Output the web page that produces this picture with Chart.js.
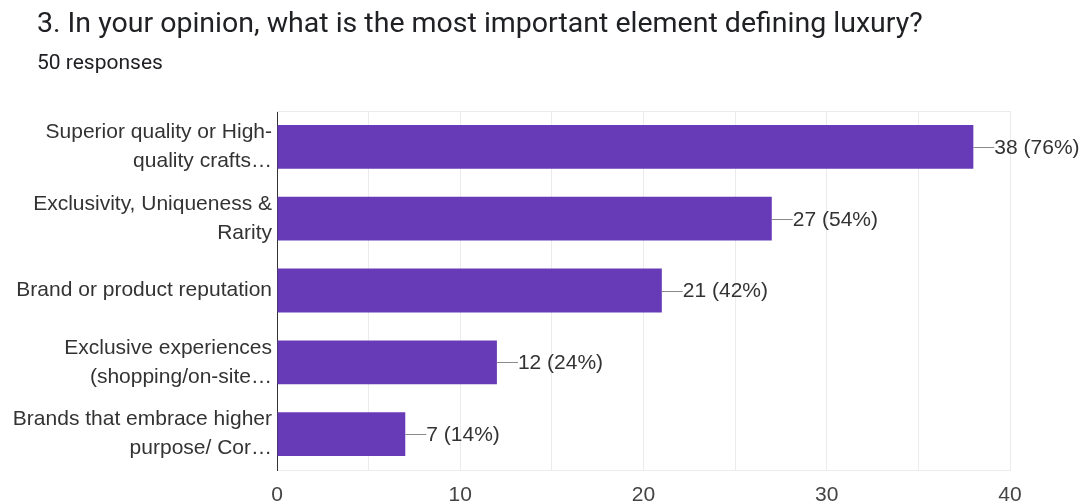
<!DOCTYPE html>
<html>
<head>
<meta charset="utf-8">
<script src="https://cdn.jsdelivr.net/npm/chart.js@4"></script>
<style>
  body { margin: 0; background: #fff; }
  #wrap { position: absolute; left: 0; top: 0; width: 1083px; height: 504px; }
  #title { position: absolute; left: 37px; top: 6px; font-family: Roboto, sans-serif; font-size: 28.5px; color: #202124; white-space: nowrap; }
  #sub { position: absolute; left: 37px; top: 50px; font-family: Roboto, sans-serif; font-size: 21px; color: #202124; }
</style>
</head>
<body>
<div id="wrap"><canvas id="luxury-chart" width="1083" height="504"></canvas></div>
<div id="title">3. In your opinion, what is the most important element defining luxury?</div>
<div id="sub">50 responses</div>
<script>
var categories = [
    ['Superior quality or High-', 'quality crafts…'],
    ['Exclusivity, Uniqueness &', 'Rarity'],
    'Brand or product reputation',
    ['Exclusive experiences', '(shopping/on-site…'],
    ['Brands that embrace higher', 'purpose/ Cor…']
];
var counts = [38, 27, 21, 12, 7];
var total_responses = 50;
var x_ticks = [0, 10, 20, 30, 40];

var font_family = "'Liberation Sans', Arial, sans-serif";

// value labels with the little connector line, like google forms
var value_labels = {
    id: 'value_labels',
    afterDatasetsDraw: function (chart) {
        var ctx = chart.ctx;
        var meta = chart.getDatasetMeta(0);
        ctx.save();
        ctx.font = '21px ' + font_family;
        ctx.textBaseline = 'middle';
        ctx.textAlign = 'left';
        meta.data.forEach(function (bar, i) {
            var v = counts[i];
            var pct = Math.round(v / total_responses * 100);
            ctx.strokeStyle = '#8a8a8a';
            ctx.lineWidth = 1;
            ctx.beginPath();
            ctx.moveTo(bar.x, Math.round(bar.y) + 0.5);
            ctx.lineTo(bar.x + 21, Math.round(bar.y) + 0.5);
            ctx.stroke();
            ctx.fillStyle = '#333333';
            ctx.fillText(v + ' (' + pct + '%)', bar.x + 21, bar.y + 1);
        });
        ctx.restore();
    }
};

// top edge of the plot frame
var top_line = {
    id: 'top_line',
    beforeDatasetsDraw: function (chart) {
        var a = chart.chartArea;
        var ctx = chart.ctx;
        ctx.save();
        ctx.strokeStyle = '#ebebeb';
        ctx.lineWidth = 1;
        ctx.beginPath();
        ctx.moveTo(a.left, Math.round(a.top) + 0.5);
        ctx.lineTo(a.right, Math.round(a.top) + 0.5);
        ctx.stroke();
        ctx.restore();
    }
};

var ctx = document.getElementById('luxury-chart').getContext('2d');
var luxury_chart = new Chart(ctx, {
    type: 'bar',
    data: {
        labels: categories,
        datasets: [{
            data: counts,
            backgroundColor: '#673ab7',
            borderWidth: 0,
            barPercentage: 0.61,
            categoryPercentage: 1
        }]
    },
    options: {
        indexAxis: 'y',
        responsive: false,
        animation: false,
        events: [],
        layout: { padding: { top: 111, right: 73, left: 0, bottom: 0 } },
        plugins: {
            legend: { display: false },
            tooltip: { enabled: false }
        },
        scales: {
            x: {
                min: x_ticks[0],
                max: x_ticks[x_ticks.length - 1],
                ticks: {
                    stepSize: 5,
                    color: '#444444',
                    font: { family: font_family, size: 21 },
                    padding: 13,
                    maxRotation: 0,
                    callback: function (v) {
                        return x_ticks.indexOf(v) >= 0 ? v : '';
                    }
                },
                grid: { color: '#ebebeb', drawTicks: false },
                border: { color: '#ebebeb' },
                afterFit: function (scale) { scale.height = 32; }
            },
            y: {
                ticks: {
                    color: '#333333',
                    font: { family: font_family, size: 21, lineHeight: 1.38 },
                    padding: 5
                },
                grid: { display: false, drawTicks: false },
                border: { display: true, color: '#333333', width: 1 },
                afterFit: function (scale) { scale.width = 277; }
            }
        }
    },
    plugins: [value_labels, top_line]
});
</script>
</body>
</html>
